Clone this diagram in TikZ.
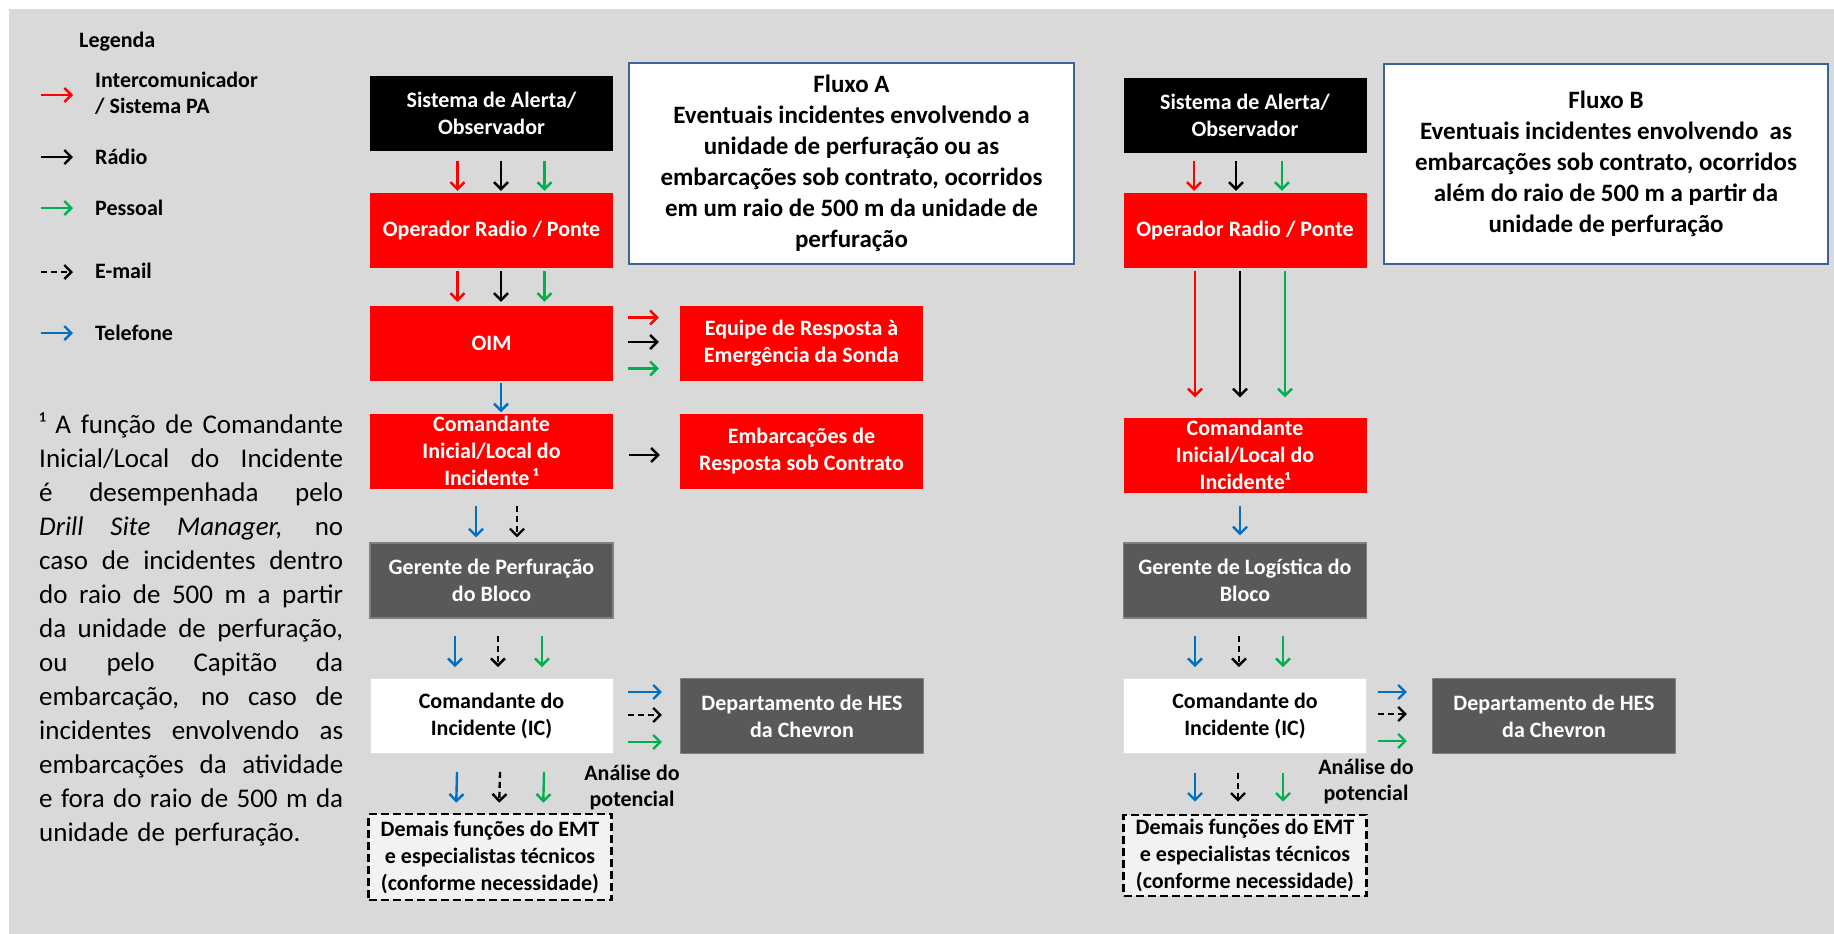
\documentclass[tikz,border=0pt]{standalone}
\usepackage{fontspec}
\setmainfont{Carlito}
\usetikzlibrary{arrows.meta}

\definecolor{bggrey}{HTML}{D9D9D9}
\definecolor{boxred}{HTML}{FF0000}
\definecolor{boxgrey}{HTML}{595959}
\definecolor{edgegrey}{HTML}{808080}
\definecolor{dashfill}{HTML}{F2F2F2}
\definecolor{flowedge}{HTML}{3A6494}
\definecolor{arrred}{HTML}{FF0000}
\definecolor{arrgreen}{HTML}{00B050}
\definecolor{arrblue}{HTML}{0070C0}

% one justified line of the footnote: its spaces stretch to fill the column
\newcommand\fullline[1]{\hbox to 304pt{\spaceskip=0.2em plus 1fil minus 0.05em\relax #1}}

\tikzset{
  box/.style={minimum width=243pt, minimum height=75pt, inner sep=0pt, align=center,
    font=\bfseries\fontsize{22}{27}\selectfont},
  redbox/.style={box, fill=boxred, text=white},
  blkbox/.style={box, fill=black, text=white},
  grybox/.style={box, fill=boxgrey, draw=edgegrey, line width=1.2pt, text=white},
  whtbox/.style={box, fill=white, draw=white!88!black, line width=0.8pt, text=black},
  dshbox/.style={box, fill=dashfill, draw=black, line width=2.6pt, dash pattern=on 8pt off 4pt, text=black},
  flowbox/.style={draw=flowedge, line width=2.8pt, fill=white, minimum width=445pt,
    minimum height=201pt, inner sep=0pt, align=center, font=\bfseries\fontsize{25}{31}\selectfont},
  con/.style={line width=2.4pt, -{Straight Barb[length=7pt,width=14pt]}},
  cR/.style={con, draw=arrred},
  cK/.style={con, draw=black},
  cG/.style={con, draw=arrgreen},
  cB/.style={con, draw=arrblue},
  cE/.style={con, draw=black, dash pattern=on 6pt off 4pt},
  legtext/.style={font=\bfseries\fontsize{22}{26}\selectfont, inner sep=0pt, anchor=west, align=left},
  annot/.style={font=\bfseries\fontsize{22}{26}\selectfont, align=center, inner sep=0pt},
}

\begin{document}
\begin{tikzpicture}[x=1pt, y=-1pt]
  % canvas
  \path[use as bounding box] (0,0) rectangle (1834,934);
  \fill[white] (0,0) rectangle (1834,934);
  \fill[bggrey] (9,9) rectangle (1834,934);

  % ---------------- legend ----------------
  \node[legtext] (legTitle) at (79,42) {Legenda};
  \node[legtext] (legIC) at (95,93) {Intercomunicador\\/ Sistema PA};
  \node[legtext] (legRad) at (95,157) {Rádio};
  \node[legtext] (legPes) at (95,208) {Pessoal};
  \node[legtext] (legMail) at (95,271) {E-mail};
  \node[legtext] (legTel) at (95,333) {Telefone};
  \coordinate (l1) at (41,95);
  \coordinate (l2) at (41,157);
  \coordinate (l3) at (41,208);
  \coordinate (l4) at (41,272);
  \coordinate (l5) at (41,333);
  \draw[cR, shorten >=22pt] (l1) -- (l1 -| legIC.west);
  \draw[cK, shorten >=22pt] (l2) -- (l2 -| legRad.west);
  \draw[cG, shorten >=22pt] (l3) -- (l3 -| legPes.west);
  \draw[cE, shorten >=22pt] (l4) -- (l4 -| legMail.west);
  \draw[cB, shorten >=22pt] (l5) -- (l5 -| legTel.west);

  % ---------------- footnote ----------------
  \node[anchor=base west, text width=304pt, inner sep=0pt,
        font=\fontsize{27}{34}\selectfont] (nota) at (39,433)
  {\fullline{¹ A função de Comandante}
   \fullline{Inicial/Local do Incidente}
   \fullline{é desempenhada pelo}
   \fullline{\textit{Drill Site Manager,} no}
   \fullline{caso de incidentes dentro}
   \fullline{do raio de 500 m a partir}
   \fullline{da unidade de perfuração,}
   \fullline{ou pelo Capitão da}
   \fullline{embarcação, no caso de}
   \fullline{incidentes envolvendo as}
   \fullline{embarcações da atividade}
   \fullline{e fora do raio de 500 m da}
   \hbox{unidade de perfuração.}};

  % ---------------- Fluxo A ----------------
  \node[blkbox] (sysA) at (491.5,113.5) {Sistema de Alerta/\\Observador};
  \node[redbox] (opA)  at (491.5,230.5) {Operador Radio / Ponte};
  \node[redbox] (oimA) at (491.5,343.5) {OIM};
  \node[redbox] (cmdA) at (491.5,451) {Comandante\\Inicial/Local do\\Incidente\,¹};
  \node[grybox] (gerA) at (491.5,580.5) {Gerente de Perfuração\\do Bloco};
  \node[whtbox] (icA)  at (491.5,716) {Comandante do\\Incidente (IC)};
  \node[dshbox, minimum height=86pt] (demA) at (490,857) {Demais funções do EMT\\e especialistas técnicos\\(conforme necessidade)};
  \node[redbox] (eqA)  at (801.5,343.5) {Equipe de Resposta à\\Emergência da Sonda};
  \node[redbox] (embA) at (801.5,451) {Embarcações de\\Resposta sob Contrato};
  \node[grybox] (hesA) at (802,716) {Departamento de HES\\da Chevron};
  \node[flowbox] (flowA) at (851.5,163.5) {Fluxo A\\Eventuais incidentes envolvendo a\\unidade de perfuração ou as\\embarcações sob contrato, ocorridos\\em um raio de 500 m da unidade de\\perfuração};
  \node[annot] (anA) at (632,787.5) {Análise do\\potencial};

  % Sistema -> Operador
  \draw[cR, shorten <=10pt, shorten >=2pt] ([xshift=-34pt]sysA.south) -- ([xshift=-34pt]opA.north);
  \draw[cK, shorten <=10pt, shorten >=2pt] ([xshift=9.5pt]sysA.south) -- ([xshift=9.5pt]opA.north);
  \draw[cG, shorten <=10pt, shorten >=2pt] ([xshift=53pt]sysA.south) -- ([xshift=53pt]opA.north);
  % Operador -> OIM
  \draw[cR, shorten <=3pt, shorten >=4pt] ([xshift=-34pt]opA.south) -- ([xshift=-34pt]oimA.north);
  \draw[cK, shorten <=3pt, shorten >=4pt] ([xshift=9.5pt]opA.south) -- ([xshift=9.5pt]oimA.north);
  \draw[cG, shorten <=3pt, shorten >=4pt] ([xshift=53pt]opA.south) -- ([xshift=53pt]oimA.north);
  % OIM -> Equipe
  \draw[cR, shorten <=15pt, shorten >=21pt] ([yshift=26pt]oimA.east) -- ([yshift=26pt]eqA.west);
  \draw[cK, shorten <=15pt, shorten >=21pt] ([yshift=1.5pt]oimA.east) -- ([yshift=1.5pt]eqA.west);
  \draw[cG, shorten <=15pt, shorten >=21pt] ([yshift=-25pt]oimA.east) -- ([yshift=-25pt]eqA.west);
  % OIM -> Comandante
  \draw[cB, shorten <=1.5pt, shorten >=1pt] ([xshift=9.5pt]oimA.south) -- ([xshift=9.5pt]cmdA.north);
  % Comandante -> Embarcacoes
  \draw[cK, shorten <=16pt, shorten >=20pt] ([yshift=-4pt]cmdA.east) -- ([yshift=-4pt]embA.west);
  % Comandante -> Gerente
  \draw[cB, shorten <=17pt, shorten >=5pt] ([xshift=-15.5pt]cmdA.south) -- ([xshift=-15.5pt]gerA.north);
  \draw[cE, shorten <=17pt, shorten >=5pt] ([xshift=25.5pt]cmdA.south) -- ([xshift=25.5pt]gerA.north);
  % Gerente -> IC
  \draw[cB, shorten <=17pt, shorten >=11pt] ([xshift=-36.5pt]gerA.south) -- ([xshift=-36.5pt]icA.north);
  \draw[cE, shorten <=17pt, shorten >=11pt] ([xshift=6.5pt]gerA.south) -- ([xshift=6.5pt]icA.north);
  \draw[cG, shorten <=17pt, shorten >=11pt] ([xshift=50.5pt]gerA.south) -- ([xshift=50.5pt]icA.north);
  % IC -> HES
  \draw[cB, shorten <=15pt, shorten >=18pt] ([yshift=24pt]icA.east) -- ([yshift=24pt]hesA.west);
  \draw[cE, shorten <=15pt, shorten >=18pt] ([yshift=1pt]icA.east) -- ([yshift=1pt]hesA.west);
  \draw[cG, shorten <=15pt, shorten >=18pt] ([yshift=-26pt]icA.east) -- ([yshift=-26pt]hesA.west);
  % IC -> Demais
  \draw[cB, shorten <=18pt, shorten >=10pt] ([xshift=-34pt]icA.south) -- ([xshift=-34pt]demA.north);
  \draw[cE, shorten <=18pt, shorten >=10pt] ([xshift=9pt]icA.south) -- ([xshift=9pt]demA.north);
  \draw[cG, shorten <=18pt, shorten >=10pt] ([xshift=53pt]icA.south) -- ([xshift=53pt]demA.north);

  % ---------------- Fluxo B ----------------
  \node[blkbox] (sysB) at (1245,115.5) {Sistema de Alerta/\\Observador};
  \node[redbox] (opB)  at (1245,230.5) {Operador Radio / Ponte};
  \node[redbox] (cmdB) at (1245,455) {Comandante\\Inicial/Local do\\Incidente¹};
  \node[grybox] (gerB) at (1245,580.5) {Gerente de Logística do\\Bloco};
  \node[whtbox] (icB)  at (1245,716) {Comandante do\\Incidente (IC)};
  \node[dshbox, minimum height=81pt] (demB) at (1245,855.5) {Demais funções do EMT\\e especialistas técnicos\\(conforme necessidade)};
  \node[grybox] (hesB) at (1554,716) {Departamento de HES\\da Chevron};
  \node[flowbox, minimum width=444pt, minimum height=200pt] (flowB) at (1606,164) {Fluxo B\\Eventuais incidentes envolvendo\ \ as\\embarcações sob contrato, ocorridos\\além do raio de 500 m a partir da\\unidade de perfuração};
  \node[annot] (anB) at (1366,781.5) {Análise do\\potencial};

  % Sistema -> Operador
  \draw[cR, shorten <=8pt, shorten >=2pt] ([xshift=-51pt]sysB.south) -- ([xshift=-51pt]opB.north);
  \draw[cK, shorten <=8pt, shorten >=2pt] ([xshift=-9pt]sysB.south) -- ([xshift=-9pt]opB.north);
  \draw[cG, shorten <=8pt, shorten >=2pt] ([xshift=37pt]sysB.south) -- ([xshift=37pt]opB.north);
  % Operador -> Comandante
  \draw[cR, shorten <=3pt, shorten >=20pt] ([xshift=-50pt]opB.south) -- ([xshift=-50pt]cmdB.north);
  \draw[cK, shorten <=3pt, shorten >=20pt] ([xshift=-5pt]opB.south) -- ([xshift=-5pt]cmdB.north);
  \draw[cG, shorten <=3pt, shorten >=20pt] ([xshift=40pt]opB.south) -- ([xshift=40pt]cmdB.north);
  % Comandante -> Gerente
  \draw[cB, shorten <=13pt, shorten >=7pt] ([xshift=-5pt]cmdB.south) -- ([xshift=-5pt]gerB.north);
  % Gerente -> IC
  \draw[cB, shorten <=17pt, shorten >=11pt] ([xshift=-50pt]gerB.south) -- ([xshift=-50pt]icB.north);
  \draw[cE, shorten <=17pt, shorten >=11pt] ([xshift=-6pt]gerB.south) -- ([xshift=-6pt]icB.north);
  \draw[cG, shorten <=17pt, shorten >=11pt] ([xshift=38pt]gerB.south) -- ([xshift=38pt]icB.north);
  % IC -> HES
  \draw[cB, shorten <=11pt, shorten >=25pt] ([yshift=24pt]icB.east) -- ([yshift=24pt]hesB.west);
  \draw[cE, shorten <=11pt, shorten >=25pt] ([yshift=2pt]icB.east) -- ([yshift=2pt]hesB.west);
  \draw[cG, shorten <=11pt, shorten >=25pt] ([yshift=-25pt]icB.east) -- ([yshift=-25pt]hesB.west);
  % IC -> Demais
  \draw[cB, shorten <=19pt, shorten >=12pt] ([xshift=-50pt]icB.south) -- ([xshift=-50pt]demB.north);
  \draw[cE, shorten <=19pt, shorten >=12pt] ([xshift=-7pt]icB.south) -- ([xshift=-7pt]demB.north);
  \draw[cG, shorten <=19pt, shorten >=12pt] ([xshift=38pt]icB.south) -- ([xshift=38pt]demB.north);
\end{tikzpicture}
\end{document}
